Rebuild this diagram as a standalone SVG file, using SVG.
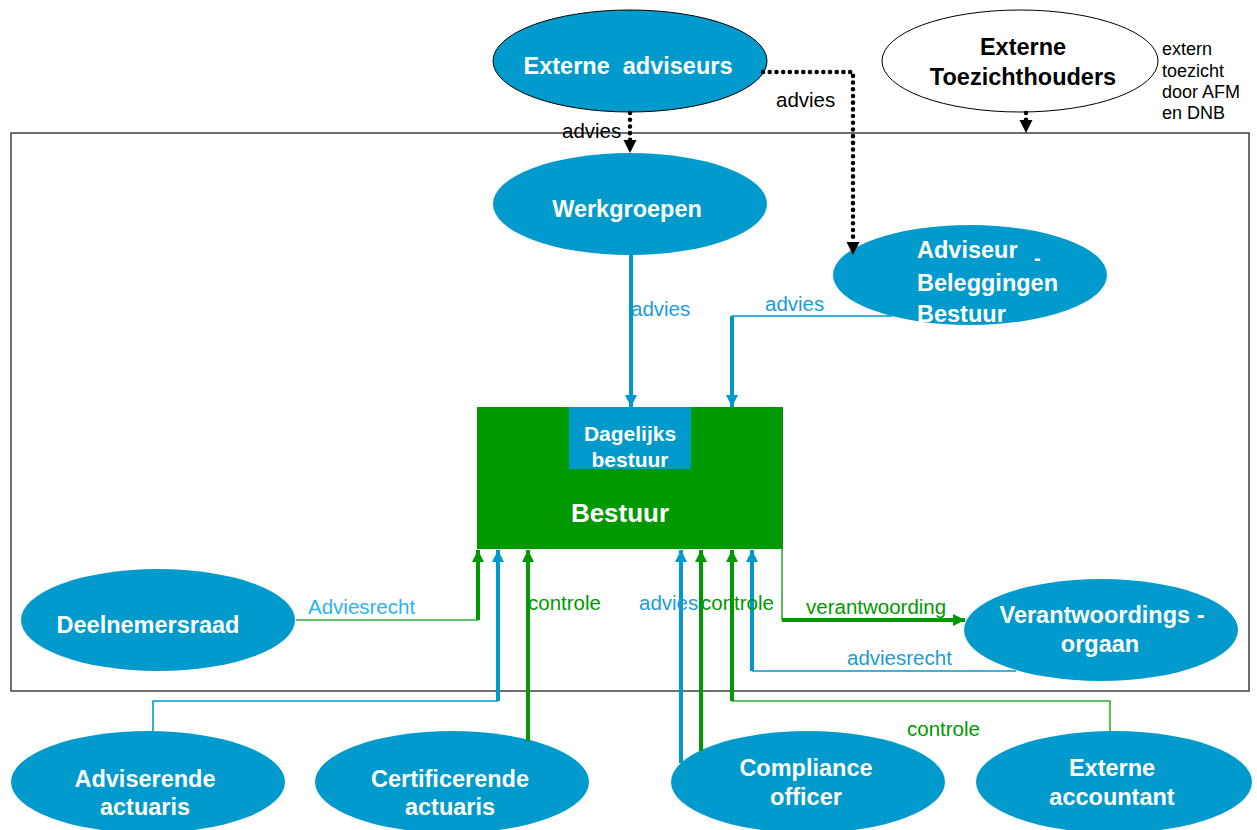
<svg xmlns="http://www.w3.org/2000/svg" width="1257" height="830" viewBox="0 0 1257 830">
<style>
.node{fill:#009BCC;stroke:none}
.nt{font-family:"Liberation Sans",Arial,sans-serif;font-weight:bold;font-size:23.5px;fill:#fff;text-anchor:middle}
.lbl{font-family:"Liberation Sans",Arial,sans-serif;font-size:20.5px}
.dot{fill:none;stroke:#000;stroke-width:4.5;stroke-linecap:round;stroke-dasharray:0.1 6.6}
.bt{fill:none;stroke:#0099CC;stroke-width:4}
.bn{fill:none;stroke:#0099CC;stroke-width:1.6}
.gt{fill:none;stroke:#009900;stroke-width:4}
.gn{fill:none;stroke:#33AA33;stroke-width:1.6}
</style>
<defs>
<marker id="ab" markerUnits="userSpaceOnUse" markerWidth="13" markerHeight="13" refX="12" refY="6" orient="auto"><path d="M0,0 L12,6 L0,12 z" fill="#0099CC"/></marker>
<marker id="ag" markerUnits="userSpaceOnUse" markerWidth="13" markerHeight="13" refX="12" refY="6" orient="auto"><path d="M0,0 L12,6 L0,12 z" fill="#009900"/></marker>
<marker id="ak" markerUnits="userSpaceOnUse" markerWidth="14" markerHeight="14" refX="13" refY="6.5" orient="auto"><path d="M0,0 L13,6.5 L0,13 z" fill="#000"/></marker>
</defs>
<rect width="1257" height="830" fill="#fff"/>
<rect id="frame" x="11" y="133" width="1238" height="558" fill="none" stroke="#222" stroke-width="1.3"/>

<g id="externe-adviseurs"><ellipse class="node" cx="630" cy="61" rx="137" ry="51" style="stroke:#000;stroke-width:1"/><text class="nt" x="628" y="74" xml:space="preserve">Externe  adviseurs</text></g>
<g id="externe-toezichthouders"><ellipse cx="1020" cy="61" rx="138" ry="51" fill="#fff" stroke="#000" stroke-width="1"/><text class="nt" x="1023" y="55" style="fill:#000">Externe</text><text class="nt" x="1023" y="85" style="fill:#000">Toezichthouders</text></g>
<g id="werkgroepen"><ellipse class="node" cx="630" cy="204" rx="137" ry="51"/><text class="nt" x="627" y="217">Werkgroepen</text></g>
<g id="adviseur-beleggingen"><ellipse class="node" cx="970" cy="275" rx="137" ry="50"/><text class="nt" x="917" y="258" style="text-anchor:start">Adviseur</text><text class="nt" x="1034" y="265" style="text-anchor:start;font-size:20px">-</text><text class="nt" x="917" y="291" style="text-anchor:start">Beleggingen</text><text class="nt" x="917" y="322" style="text-anchor:start">Bestuur</text></g>
<g id="bestuur"><rect x="477" y="407" width="306" height="142" fill="#009900"/><text class="nt" x="620" y="522" style="font-size:26px">Bestuur</text></g>
<g id="dagelijks-bestuur"><rect x="569" y="407" width="122" height="62" fill="#0099CC"/><text class="nt" x="630" y="441" style="font-size:21px">Dagelijks</text><text class="nt" x="630" y="467" style="font-size:21px">bestuur</text></g>
<g id="deelnemersraad"><ellipse class="node" cx="158" cy="620" rx="137" ry="51"/><text class="nt" x="148" y="633">Deelnemersraad</text></g>
<g id="verantwoordingsorgaan"><ellipse class="node" cx="1101" cy="630" rx="137" ry="51"/><text class="nt" x="1102" y="623">Verantwoordings -</text><text class="nt" x="1100" y="652">orgaan</text></g>
<g id="adviserende-actuaris"><ellipse class="node" cx="148" cy="782" rx="137" ry="51"/><text class="nt" x="145" y="787">Adviserende</text><text class="nt" x="145" y="815">actuaris</text></g>
<g id="certificerende-actuaris"><ellipse class="node" cx="452" cy="782" rx="137" ry="51"/><text class="nt" x="450" y="787">Certificerende</text><text class="nt" x="450" y="815">actuaris</text></g>
<g id="compliance-officer"><ellipse class="node" cx="808" cy="782" rx="137" ry="51"/><text class="nt" x="806" y="776">Compliance</text><text class="nt" x="806" y="805">officer</text></g>
<g id="externe-accountant"><ellipse class="node" cx="1114" cy="782" rx="138" ry="51"/><text class="nt" x="1112" y="776">Externe</text><text class="nt" x="1112" y="805">accountant</text></g>

<g id="connectors">
<path class="dot" d="M630,113 V140"/><path d="M630,140 V153" fill="none" stroke="none" marker-end="url(#ak)"/>
<path class="dot" d="M763,72 H853 V242"/><path d="M853,242 V255" fill="none" stroke="none" marker-end="url(#ak)"/>
<path class="dot" d="M1026,113 V120"/><path d="M1026,120 V133" fill="none" stroke="none" marker-end="url(#ak)"/>
<path class="bt" d="M631,255 V407" marker-end="url(#ab)"/>
<path class="bn" d="M892,316 H732"/><path class="bt" d="M732,316 V407" marker-end="url(#ab)"/>
<path class="gn" d="M296,620 H478"/><path class="gt" d="M478,620 V550" marker-end="url(#ag)"/>
<path class="bn" d="M153,731 V701 H498"/><path class="bt" d="M498,701 V550" marker-end="url(#ab)"/>
<path class="gt" d="M528,741 V550" marker-end="url(#ag)"/>
<path class="bt" d="M681,763 V550" marker-end="url(#ab)"/>
<path class="gt" d="M701,751 V550" marker-end="url(#ag)"/>
<path class="gn" d="M1110,731 V701 H732"/><path class="gt" d="M732,701 V550" marker-end="url(#ag)"/>
<path class="bn" d="M1016,671 H752"/><path class="bt" d="M752,671 V550" marker-end="url(#ab)"/>
<path class="gn" d="M782,549 V620"/><path class="gt" d="M782,620 H965" marker-end="url(#ag)"/>
</g>

<g id="labels" class="lbl">
<text x="562" y="138" fill="#000">advies</text>
<text x="776" y="107" fill="#000">advies</text>
<text x="1162" y="55" fill="#000" style="font-size:18px">extern</text>
<text x="1162" y="77" fill="#000" style="font-size:18px">toezicht</text>
<text x="1162" y="98" fill="#000" style="font-size:18px">door AFM</text>
<text x="1162" y="119" fill="#000" style="font-size:18px">en DNB</text>
<text x="631" y="316" fill="#1A9CD8">advies</text>
<text x="765" y="311" fill="#1A9CD8">advies</text>
<text x="308" y="614" fill="#2DB3F0">Adviesrecht</text>
<text x="528" y="610" fill="#009900">controle</text>
<text x="639" y="610" fill="#1A9CD8">advies</text>
<text x="701" y="610" fill="#009900">controle</text>
<text x="806" y="614" fill="#009900">verantwoording</text>
<text x="847" y="665" fill="#1A9CD8">adviesrecht</text>
<text x="907" y="736" fill="#009900">controle</text>
</g>
</svg>
